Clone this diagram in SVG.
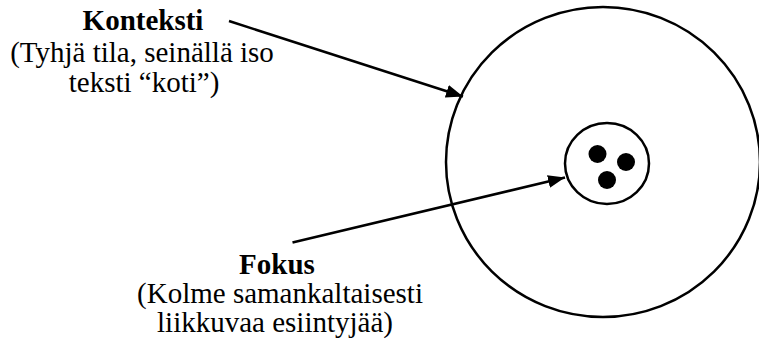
<svg xmlns="http://www.w3.org/2000/svg" width="759" height="345" viewBox="0 0 759 345">
<style>
.t{font-family:'Liberation Serif','DejaVu Serif',serif;font-size:29px;fill:#000;text-anchor:middle}
.b{font-weight:bold}
.ring{fill:none;stroke:#000;stroke-width:2.5}
.dot{fill:#000}
.conn{stroke:#000;stroke-width:2.5;fill:none;marker-end:url(#ah)}
</style>
<defs>
<marker id="ah" markerUnits="userSpaceOnUse" markerWidth="18" markerHeight="14" refX="17" refY="6.5" orient="auto">
<path d="M0,0 L17,6.5 L0,13 Z" fill="#000"/>
</marker>
</defs>
<g id="context">
<ellipse class="ring" cx="603" cy="162" rx="157" ry="155"/>
</g>
<g id="focus">
<ellipse class="ring" cx="607" cy="163.5" rx="42" ry="40.5"/>
<circle class="dot" cx="597.5" cy="154" r="9"/>
<circle class="dot" cx="626" cy="162" r="9"/>
<circle class="dot" cx="607" cy="180" r="9"/>
</g>
<g id="label-konteksti" font-family="Liberation Serif, serif">
<text class="t b" x="143" y="30">Konteksti</text>
<text class="t" x="142" y="61.5">(Tyhjä tila, seinällä iso</text>
<text class="t" x="144" y="91.5">teksti “koti”)</text>
</g>
<g id="label-fokus" font-family="Liberation Serif, serif">
<text class="t b" x="277" y="274">Fokus</text>
<text class="t" x="280" y="303">(Kolme samankaltaisesti</text>
<text class="t" x="275" y="332">liikkuvaa esiintyjää)</text>
</g>
<g id="connectors">
<line class="conn" x1="229" y1="21" x2="463" y2="96.5"/>
<line class="conn" x1="292.5" y1="242.5" x2="565" y2="177.5"/>
</g>
</svg>
